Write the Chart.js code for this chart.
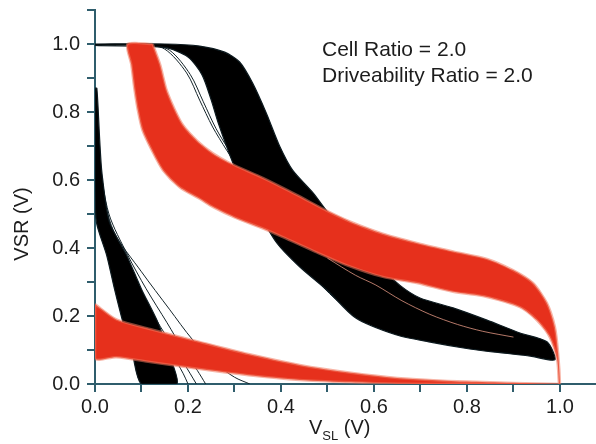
<!DOCTYPE html>
<html>
<head>
<meta charset="utf-8">
<script src="https://cdn.jsdelivr.net/npm/chart.js@4/dist/chart.umd.min.js"></script>
<style>
  html, body { margin: 0; padding: 0; background: #ffffff; }
  #wrap { width: 596px; height: 444px; }
</style>
</head>
<body>
<div id="wrap"><canvas id="c" width="596" height="444"></canvas></div>
<script>
// ---------- data ----------
const xMajorTicks = [0.0, 0.2, 0.4, 0.6, 0.8, 1.0];
const yMajorTicks = [0.0, 0.2, 0.4, 0.6, 0.8, 1.0];
const annotationLines = ['Cell Ratio = 2.0', 'Driveability Ratio = 2.0'];
const xTitle = ['V', 'SL', ' (V)'];
const yTitle = 'VSR (V)';

// red curve family, upper branch: outer (upper-right) and inner (lower-left) envelope
const redUpperOuter = [[0.124,1.0],[0.14,0.94],[0.154,0.865],[0.172,0.806],[0.19,0.76],[0.22,0.715],[0.253,0.679],[0.29,0.65],[0.361,0.606],[0.434,0.556],[0.498,0.51],[0.548,0.478],[0.619,0.442],[0.692,0.415],[0.77,0.39],[0.843,0.368],[0.899,0.335],[0.942,0.297],[0.972,0.238],[0.989,0.168],[0.996,0.091],[1.0,0.0]];
const redUpperInner = [[0.07,1.0],[0.078,0.94],[0.085,0.865],[0.092,0.806],[0.102,0.747],[0.122,0.688],[0.146,0.629],[0.182,0.579],[0.225,0.545],[0.253,0.521],[0.3,0.49],[0.36,0.458],[0.404,0.432],[0.477,0.387],[0.548,0.346],[0.619,0.315],[0.692,0.297],[0.77,0.271],[0.843,0.256],[0.914,0.226],[0.95,0.188],[0.978,0.138],[0.994,0.071],[0.998,0.0]];
// red curve family, lower branch
const redLowerTop = [[0.0,0.235],[0.046,0.19],[0.118,0.162],[0.225,0.124],[0.33,0.088],[0.44,0.056],[0.55,0.033],[0.65,0.018],[0.8,0.007],[1.0,0.0]];
const redLowerBottom = [[0.0,0.075],[0.046,0.079],[0.118,0.065],[0.225,0.044],[0.33,0.026],[0.44,0.012],[0.55,0.005],[0.65,0.001],[0.8,0.0],[1.0,0.0]];

// black curve family, right branch
const blackRightOuter = [[0.0,1.0],[0.15,1.0],[0.225,0.994],[0.279,0.976],[0.311,0.947],[0.339,0.885],[0.369,0.795],[0.397,0.7],[0.425,0.629],[0.469,0.562],[0.498,0.51],[0.548,0.438],[0.602,0.359],[0.656,0.29],[0.699,0.253],[0.77,0.224],[0.843,0.188],[0.914,0.15],[0.972,0.124]];
const blackRightInner = [[0.0,0.996],[0.15,0.99],[0.2,0.962],[0.23,0.91],[0.25,0.835],[0.264,0.772],[0.286,0.688],[0.306,0.62],[0.345,0.52],[0.391,0.415],[0.44,0.345],[0.5,0.275],[0.56,0.195],[0.647,0.145],[0.718,0.124],[0.806,0.103],[0.871,0.092],[0.936,0.082],[0.989,0.071]];
// black curve family, left branch
const blackLeftInner = [[0.0,0.87],[0.0,0.6],[0.003,0.476],[0.025,0.379],[0.042,0.279],[0.06,0.182],[0.081,0.085],[0.1,0.0]];
const blackLeftOuter = [[0.004,0.87],[0.01,0.72],[0.015,0.62],[0.031,0.476],[0.068,0.379],[0.1,0.279],[0.135,0.182],[0.16,0.085],[0.176,0.0]];

// individual outlying traces
const blackTraceA = [[0.1,1.0],[0.15,0.985],[0.197,0.915],[0.225,0.835],[0.253,0.756],[0.283,0.688],[0.31,0.63],[0.35,0.54],[0.39,0.45],[0.43,0.38],[0.48,0.3],[0.53,0.235],[0.59,0.185],[0.65,0.15],[0.72,0.128],[0.8,0.11],[0.9,0.096],[0.985,0.085]];
const blackTraceB = [[0.11,1.0],[0.16,0.982],[0.205,0.91],[0.233,0.83],[0.26,0.752],[0.29,0.684],[0.318,0.625],[0.356,0.535],[0.396,0.445],[0.437,0.372],[0.487,0.293],[0.54,0.228],[0.6,0.178],[0.66,0.145],[0.73,0.124],[0.81,0.107],[0.9,0.094]];
const blackTraceC = [[0.005,0.7],[0.02,0.5],[0.05,0.38],[0.09,0.27],[0.13,0.17],[0.165,0.09],[0.19,0.03],[0.2,0.0]];
const blackTraceD = [[0.006,0.7],[0.025,0.5],[0.06,0.38],[0.1,0.27],[0.14,0.17],[0.178,0.09],[0.205,0.03],[0.218,0.0]];
const blackTraceE = [[0.008,0.66],[0.03,0.5],[0.07,0.38],[0.11,0.28],[0.155,0.18],[0.19,0.1],[0.22,0.04],[0.238,0.0]];
const blackTraceF = [[0.01,0.6],[0.04,0.45],[0.1,0.33],[0.16,0.22],[0.21,0.13],[0.26,0.06],[0.3,0.02],[0.333,0.0]];
const lightTraceA = [[0.5,0.37],[0.56,0.32],[0.604,0.291],[0.66,0.245],[0.72,0.205],[0.78,0.175],[0.834,0.155],[0.9,0.138]];

// ---------- styling ----------
const AXIS = '#2f5d6c';
const RED = 'rgb(230,48,28)';
const RED_EDGE = 'rgba(240,120,95,0.55)';
const FONT = '"Liberation Sans", Arial, Helvetica, sans-serif';
const TXT = '#1c1c1c';

const toPts = a => a.map(p => ({x: p[0], y: p[1]}));
const polygon = (a, b) => toPts(a.concat(b.slice().reverse(), [a[0]]));

function band(edgeA, edgeB, fillColor, edgeColor, edgeWidth) {
  return {
    data: polygon(edgeA, edgeB),
    showLine: true, fill: 'shape', tension: 0.25,
    backgroundColor: fillColor, borderColor: edgeColor, borderWidth: edgeWidth,
    pointRadius: 0, pointHoverRadius: 0
  };
}
function trace(a, color, w) {
  return {
    data: toPts(a), showLine: true, fill: false, tension: 0.3,
    borderColor: color, borderWidth: w, pointRadius: 0, pointHoverRadius: 0
  };
}

// first dataset drawn on top
const datasets = [
  band(redUpperOuter, redUpperInner, RED, RED_EDGE, 2.5),
  band(redLowerTop, redLowerBottom, RED, RED_EDGE, 2.5),
  trace(lightTraceA, 'rgba(225,150,130,0.8)', 1),
  band(blackRightOuter, blackRightInner, '#000000', '#0d1a1f', 1.2),
  band(blackLeftInner, blackLeftOuter, '#000000', '#0d1a1f', 1.2),
  trace(blackTraceA, '#14242a', 1),
  trace(blackTraceB, '#14242a', 1),
  trace(blackTraceC, '#14242a', 1),
  trace(blackTraceD, '#14242a', 1),
  trace(blackTraceE, '#14242a', 1),
  trace(blackTraceF, '#14242a', 1)
];

const isMajor = (list, v) => list.some(t => Math.abs(t - v) < 1e-6);

const textPlugin = {
  id: 'texts',
  afterDraw(chart) {
    const ctx = chart.ctx;
    ctx.save();
    ctx.fillStyle = TXT;
    ctx.textBaseline = 'alphabetic';
    ctx.textAlign = 'left';
    // annotation
    ctx.font = '21px ' + FONT;
    ctx.fillText(annotationLines[0], 322, 56);
    ctx.fillText(annotationLines[1], 322, 82);
    // x title with subscript
    let x = 309;
    ctx.font = '20px ' + FONT;
    ctx.fillText(xTitle[0], x, 434);
    x += ctx.measureText(xTitle[0]).width;
    ctx.font = '13px ' + FONT;
    ctx.fillText(xTitle[1], x, 440);
    x += ctx.measureText(xTitle[1]).width;
    ctx.font = '20px ' + FONT;
    ctx.fillText(xTitle[2], x, 434);
    // y title
    ctx.translate(22, 224);
    ctx.rotate(-Math.PI / 2);
    ctx.textAlign = 'center';
    ctx.textBaseline = 'middle';
    ctx.font = '20px ' + FONT;
    ctx.fillText(yTitle, 0, 0);
    ctx.restore();
  }
};

new Chart(document.getElementById('c'), {
  type: 'scatter',
  data: { datasets },
  plugins: [textPlugin],
  options: {
    responsive: false,
    animation: false,
    devicePixelRatio: 1,
    layout: { padding: { left: 0, right: 0, top: 0, bottom: 0 } },
    plugins: { legend: { display: false }, tooltip: { enabled: false } },
    scales: {
      x: {
        type: 'linear', min: 0, max: 1.0775,
        afterFit(s) { s.height = 60; },
        border: { display: true, color: AXIS, width: 2 },
        grid: { drawOnChartArea: false, drawTicks: true, tickLength: 8, color: AXIS, lineWidth: 2 },
        ticks: {
          stepSize: 0.1, includeBounds: false, autoSkip: false, maxRotation: 0,
          padding: 3, color: TXT, font: { family: FONT, size: 20 },
          callback: v => isMajor(xMajorTicks, v) ? v.toFixed(1) : ''
        }
      },
      y: {
        type: 'linear', min: 0, max: 1.1,
        afterFit(s) { s.width = 95; s.paddingTop = 10; },
        border: { display: true, color: AXIS, width: 2 },
        grid: { drawOnChartArea: false, drawTicks: true, tickLength: 8, color: AXIS, lineWidth: 2 },
        ticks: {
          stepSize: 0.1, includeBounds: false, autoSkip: false,
          padding: 7, color: TXT, font: { family: FONT, size: 20 },
          callback: v => isMajor(yMajorTicks, v) ? v.toFixed(1) : ''
        }
      }
    }
  }
});
</script>
</body>
</html>
